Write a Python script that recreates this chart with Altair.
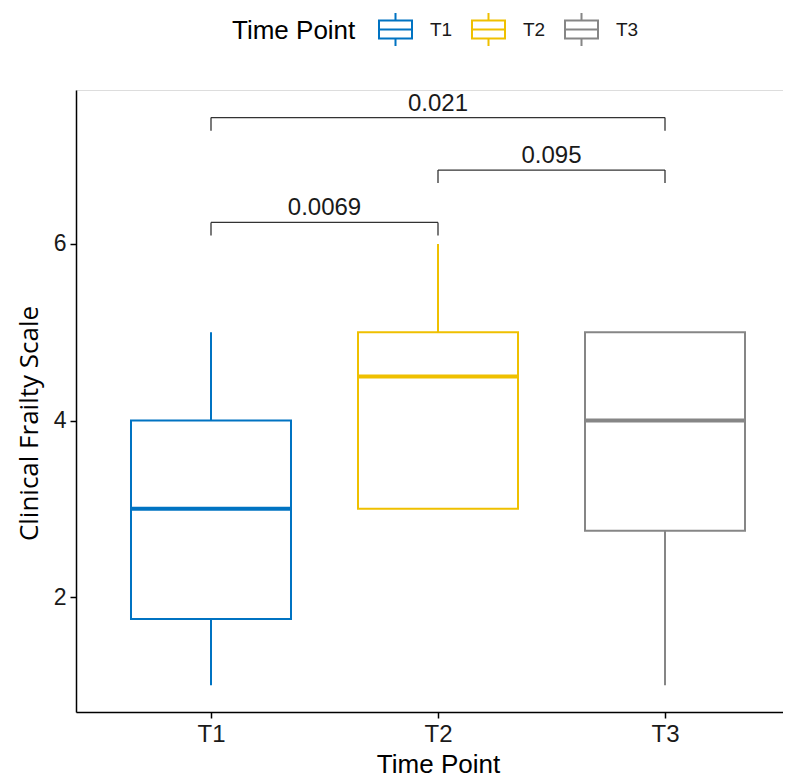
import json
import altair as alt
import pandas as pd

# ---- data ----
categories = ["T1", "T2", "T3"]
colors = ["#0073C2", "#EFC000", "#868686"]
lower_whisker = [1, 3, 1]
q1 = [1.75, 3, 2.75]
median = [3, 4.5, 4]
q3 = [4, 5, 5]
upper_whisker = [5, 6, 5]

group1 = ["T1", "T2", "T1"]
group2 = ["T2", "T3", "T3"]
p_labels = ["0.0069", "0.095", "0.021"]
bracket_y = [6.245, 6.838, 7.433]
bracket_tip = [6.096, 6.691, 7.284]

cat_js = json.dumps(categories)

boxes = pd.DataFrame({
    "tp": categories, "lo": lower_whisker, "q1": q1, "med": median,
    "q3": q3, "hi": upper_whisker,
})
brackets = pd.DataFrame({
    "g1": group1, "g2": group2, "label": p_labels,
    "yl": bracket_y, "yt": bracket_tip,
})

FONT = "Liberation Sans"
W, H = 707, 622
x_scale = alt.Scale(domain=[0.40529, 3.51982], nice=False, zero=False, padding=0)
y_scale = alt.Scale(domain=[0.697, 7.745], nice=False, zero=False, padding=0)

x_axis = alt.Axis(
    values=[1, 2, 3], labelExpr=f"{cat_js}[datum.value - 1]", title="Time Point",
    grid=False, domainColor="black", domainWidth=1.5, tickColor="black",
    tickWidth=1.5, tickSize=6, labelFont=FONT, labelFontSize=24, labelColor="#1a1a1a",
    labelPadding=4, titleFont=FONT, titleFontSize=26, titleFontWeight="normal",
    titleColor="black", titleX=362, titleY=60, titleBaseline="alphabetic",
)
y_axis = alt.Axis(
    values=[2, 4, 6], format="d", title="Clinical Frailty Scale", grid=False,
    domainColor="black", domainWidth=1.5, tickColor="black", tickWidth=1.5,
    tickSize=6, labelFont=FONT, labelFontSize=23, labelColor="#1a1a1a",
    labelPadding=4, titleFont="Open Sans", titleFontSize=26,
    titleFontWeight="normal", titleColor="black", titleX=-39, titleY=333,
    titleAngle=270, titleAlign="center", titleBaseline="alphabetic",
)

stroke = alt.Stroke(
    "tp:N", scale=alt.Scale(domain=categories, range=colors),
    legend=alt.Legend(
        title="Time Point", orient="none", legendX=156, legendY=-78,
        direction="horizontal", titleOrient="left", titleFont=FONT,
        titleFontSize=26, titleFontWeight="normal", titleColor="black",
        labelFont=FONT, labelFontSize=19, labelColor="#1a1a1a",
        symbolType="M-1,-0.55H1V0.55H-1Z M-1,0H1 M0,-0.55V-1 M0,0.55V1",
        symbolSize=1089, symbolStrokeWidth=2, symbolFillColor="white",
        titlePadding=22, labelOffset=17, columnPadding=15,
    ),
)

base = alt.Chart(boxes).transform_calculate(
    idx=f"indexof({cat_js}, datum.tp) + 1"
)

box = base.mark_bar(size=160, fill="white", strokeWidth=2).encode(
    x=alt.X("idx:Q", scale=x_scale, axis=x_axis),
    y=alt.Y("q1:Q", scale=y_scale, axis=y_axis),
    y2="q3:Q",
    stroke=stroke,
)
whisk_hi = base.mark_rule(strokeWidth=2).encode(
    x="idx:Q", y="q3:Q", y2="hi:Q", stroke=alt.Stroke("tp:N", legend=None)
)
whisk_lo = base.mark_rule(strokeWidth=2).encode(
    x="idx:Q", y="lo:Q", y2="q1:Q", stroke=alt.Stroke("tp:N", legend=None)
)
med = base.mark_rule(strokeWidth=4, xOffset=-80, x2Offset=80).encode(
    x="idx:Q", x2="idx:Q", y="med:Q", stroke=alt.Stroke("tp:N", legend=None)
)

bbase = alt.Chart(brackets).transform_calculate(
    i1=f"indexof({cat_js}, datum.g1) + 1",
    i2=f"indexof({cat_js}, datum.g2) + 1",
).transform_calculate(mid="(datum.i1 + datum.i2) / 2")

bcol = "#333333"
bh = bbase.mark_rule(color=bcol, strokeWidth=1.3).encode(x="i1:Q", x2="i2:Q", y="yl:Q")
bl = bbase.mark_rule(color=bcol, strokeWidth=1.3).encode(x="i1:Q", y="yl:Q", y2="yt:Q")
br = bbase.mark_rule(color=bcol, strokeWidth=1.3).encode(x="i2:Q", y="yl:Q", y2="yt:Q")
bt = bbase.mark_text(font=FONT, fontSize=24, color="#1a1a1a", baseline="alphabetic", dy=-7).encode(
    x="mid:Q", y="yl:Q", text="label:N"
)

chart = alt.layer(box, whisk_hi, whisk_lo, med, bh, bl, br, bt).properties(
    width=W, height=H,
    autosize=alt.AutoSizeParams(type="none"),
    padding={"left": 68, "top": 82, "right": 0, "bottom": 66},
).configure_view(stroke=None, strokeWidth=0, strokeOpacity=0).configure(background="white")

chart.save("out.html", embed_options={"renderer": "svg", "actions": False})
